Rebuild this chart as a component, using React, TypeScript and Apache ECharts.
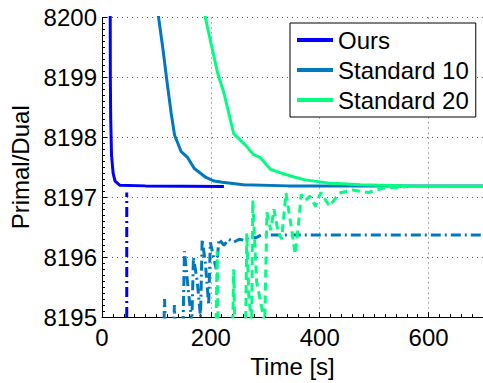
import React, { useEffect, useRef } from "react";
import * as echarts from "echarts";

const xTicks = [0, 200, 400, 600];
const xMax = 700;
const yTicks = [8195, 8196, 8197, 8198, 8199, 8200];

const seriesNames = ["Ours", "Standard 10", "Standard 20"];
const seriesColors = ["#0000ff", "#0078c0", "#00ff80"];

const oursPrimal = [
  [15, 8200.5], [15.3, 8199], [16, 8198.3], [17.5, 8197.7], [20.5, 8197.4],
  [24, 8197.27], [33, 8197.2], [80, 8197.19], [224, 8197.18],
];
const oursDual = [[45.5, 8194], [45.5, 8197.08]];

const std10Primal = [
  [102.5, 8200.1], [112, 8199.47], [121, 8198.82], [127.3, 8198.39], [133.3, 8198.04],
  [145.5, 8197.76], [157.5, 8197.66], [169.6, 8197.48], [191, 8197.33], [206, 8197.27],
  [221, 8197.25], [260, 8197.21], [342, 8197.19], [700, 8197.19],
];
const std10Dual = [
  [113, 8194.6], [115, 8195.3], [117, 8194.6],
  [131, 8194.6], [133, 8195.2], [135, 8194.6],
  [149, 8194.9], [151.5, 8196.1], [158, 8195.5], [165, 8194.9], [168, 8196.0],
  [175, 8195.6], [181, 8195.0], [184, 8196.3], [190, 8195.9], [196, 8195.2],
  [199, 8196.25], [205, 8196.0], [210, 8195.8], [215, 8196.3], [224, 8196.2],
  [233, 8196.3], [242, 8196.25], [252, 8196.3], [262, 8196.28], [272, 8196.35],
  [282, 8196.32], [292, 8196.37], [700, 8196.37],
];

const std20Primal = [
  [187.5, 8200.1], [200, 8199.58], [212, 8199.09], [224, 8198.74], [242, 8198.06],
  [263.6, 8197.87], [278.7, 8197.71], [291, 8197.66], [309, 8197.47], [324, 8197.42],
  [348, 8197.35], [373, 8197.29], [415, 8197.24], [475, 8197.21], [566, 8197.19],
  [700, 8197.185],
];
const std20Dual = [
  [209, 8194.5], [211.5, 8196.1], [214, 8194.5],
  [240, 8194.8], [242, 8195.8], [244, 8194.8],
  [264, 8194.9], [266, 8196.4], [270, 8195.3], [275, 8194.9], [277, 8196.95],
  [284, 8195.6], [299, 8194.9], [303, 8196.75], [310, 8196.45], [316, 8196.8],
  [323, 8196.45], [330, 8196.3], [338, 8197.07], [347, 8196.55], [355, 8196.05],
  [361, 8196.55], [366, 8197.05], [374, 8196.95], [382, 8197.02], [392, 8196.85],
  [402, 8197.08], [418, 8196.85], [436, 8197.07], [460, 8197.12], [490, 8197.08],
  [515, 8197.15], [557, 8197.17],
];

const FONT = "Arial";

export default function App() {
  const ref = useRef<HTMLDivElement>(null);
  useEffect(() => {
    if (!ref.current) return;
    const chart = echarts.init(ref.current, undefined, { renderer: "svg" });
    const dotted = { color: "#666", width: 1, type: [1, 4] as any };
    const primal = (name: string, data: number[][], color: string) => ({
      name,
      type: "line",
      data,
      symbol: "none",
      showSymbol: false,
      clip: true,
      itemStyle: { color },
      lineStyle: { color, width: 3 },
    });
    const dual = (name: string, data: number[][], color: string, dash: number[]) => ({
      name,
      type: "line",
      data,
      symbol: "none",
      showSymbol: false,
      clip: true,
      itemStyle: { color },
      lineStyle: { color, width: 3, type: dash },
    });
    chart.setOption({
      animation: false,
      textStyle: { fontFamily: FONT },
      grid: { left: 102, right: -4, top: 17.5, bottom: 58, containLabel: false },
      legend: {
        data: seriesNames,
        orient: "vertical",
        left: 290,
        top: 23,
        padding: [5, 7, 5, 7],
        itemGap: 6,
        itemWidth: 36,
        itemHeight: 4,
        icon: "rect",
        borderColor: "#000",
        borderWidth: 1,
        borderRadius: 0,
        backgroundColor: "#fff",
        textStyle: { fontSize: 24, color: "#000", fontFamily: FONT },
      },
      xAxis: {
        type: "value",
        min: xTicks[0],
        max: xMax,
        interval: xTicks[1] - xTicks[0],
        name: "Time [s]",
        nameLocation: "middle",
        nameGap: 31,
        nameTextStyle: { fontSize: 24, color: "#000", fontFamily: FONT },
        axisLine: { show: true, lineStyle: { color: "#000", width: 1 } },
        axisTick: { show: true, inside: true, length: 5, lineStyle: { color: "#000" } },
        minorTick: { show: true, splitNumber: 10, length: 3, lineStyle: { color: "#000" } },
        axisLabel: {
          fontSize: 24,
          color: "#000",
          margin: 8,
          fontFamily: FONT,
          showMaxLabel: false,
          formatter: (v: number) => String(v),
        },
        splitLine: { show: true, lineStyle: dotted },
      },
      yAxis: {
        type: "value",
        min: yTicks[0],
        max: yTicks[yTicks.length - 1],
        interval: 1,
        name: "Primal/Dual",
        nameLocation: "middle",
        nameGap: 66,
        nameTextStyle: { fontSize: 24, color: "#000", fontFamily: FONT },
        axisLine: { show: true, lineStyle: { color: "#000", width: 1 } },
        axisTick: { show: true, inside: true, length: 5, lineStyle: { color: "#000" } },
        minorTick: { show: true, splitNumber: 10, length: 3, lineStyle: { color: "#000" } },
        axisLabel: {
          fontSize: 24,
          color: "#000",
          margin: 5,
          fontFamily: FONT,
          formatter: (v: number) => String(v),
        },
        splitLine: { show: true, lineStyle: dotted },
      },
      series: [
        primal(seriesNames[0], oursPrimal, seriesColors[0]),
        dual("Ours dual", oursDual, seriesColors[0], [10, 4, 2, 4]),
        primal(seriesNames[1], std10Primal, seriesColors[1]),
        dual("Standard 10 dual", std10Dual, seriesColors[1], [10, 4, 2, 4]),
        primal(seriesNames[2], std20Primal, seriesColors[2]),
        dual("Standard 20 dual", std20Dual, seriesColors[2], [8, 5]),
      ],
    });
    return () => chart.dispose();
  }, []);
  return (
    <div
      ref={ref}
      style={{ position: "fixed", left: 0, top: 0, width: 483, height: 383, background: "#fff" }}
    />
  );
}
